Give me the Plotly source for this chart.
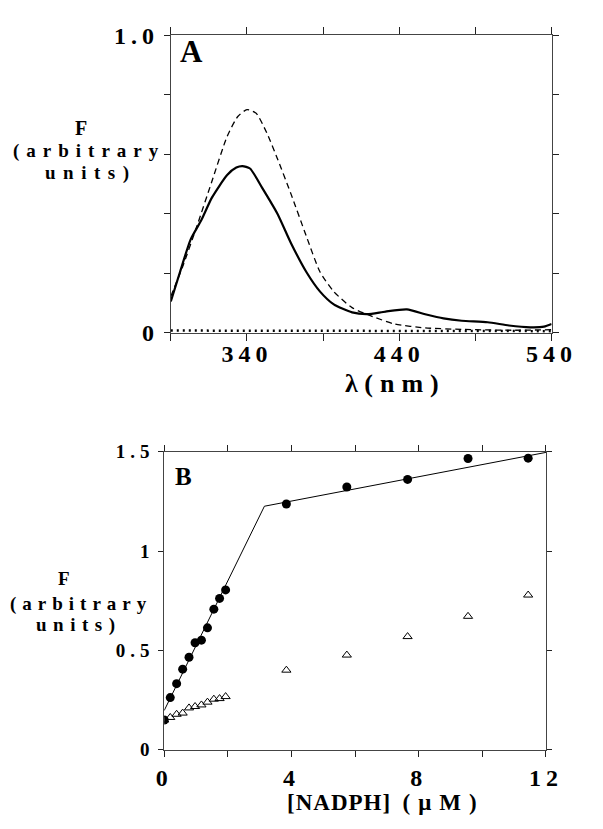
import plotly.graph_objects as go

# ---------- Panel A data ----------
wl_solid = [290, 296, 303, 310, 317, 327, 333, 337, 342, 350, 360, 369, 379, 388, 397,
            409, 419, 431, 445, 457, 469, 481, 498, 512, 526, 535, 540]
f_solid = [0.105, 0.203, 0.313, 0.378, 0.454, 0.530, 0.555, 0.560, 0.552, 0.487, 0.400,
           0.300, 0.204, 0.138, 0.095, 0.068, 0.062, 0.071, 0.078, 0.062, 0.048, 0.040,
           0.035, 0.024, 0.018, 0.020, 0.029]
wl_dash = [290, 298, 307, 317, 327, 334, 340, 346, 353, 360, 369, 379, 388, 397, 409,
           421, 437, 457, 481, 516, 540]
f_dash = [0.122, 0.225, 0.356, 0.509, 0.660, 0.727, 0.750, 0.738, 0.672, 0.585, 0.465,
          0.324, 0.204, 0.138, 0.084, 0.057, 0.029, 0.016, 0.011, 0.008, 0.010]
wl_dot = [290, 540]
f_dot = [0.007, 0.005]

a_xticks = [290, 340, 390, 440, 490, 540]
a_xlabels = ["", "340", "", "440", "", "540"]
a_yticks = [0, 0.2, 0.4, 0.6, 0.8, 1.0]
a_ylabels = ["0", "", "", "", "", "1.0"]

# ---------- Panel B data ----------
nadph_circ = [0, 0.19, 0.39, 0.58, 0.78, 0.97, 1.17, 1.36, 1.56, 1.74, 1.93,
              3.84, 5.74, 7.65, 9.55, 11.44]
f_circ = [0.150, 0.263, 0.333, 0.406, 0.466, 0.539, 0.552, 0.614, 0.708, 0.762, 0.805,
          1.237, 1.323, 1.361, 1.466, 1.468]
nadph_tri = [0, 0.19, 0.39, 0.58, 0.78, 0.97, 1.17, 1.36, 1.56, 1.74, 1.93,
             3.84, 5.74, 7.65, 9.55, 11.44]
f_tri = [0.150, 0.163, 0.179, 0.185, 0.211, 0.218, 0.226, 0.240, 0.255, 0.258, 0.268,
         0.401, 0.477, 0.570, 0.672, 0.779]
fit_x = [0, 3.15, 12]
fit_y = [0.198, 1.226, 1.497]

b_xticks = [0, 2, 4, 6, 8, 10, 12]
b_xlabels = ["0", "", "4", "", "8", "", "12"]
b_yticks = [0, 0.5, 1, 1.5]
b_ylabels = ["0", "0.5", "1", "1.5"]

SERIF = "Liberation Serif"
W, H = 603, 829


def sp(text, ls):
    return f'<span style="letter-spacing:{ls}px">{text}</span>'


fig = go.Figure()

# Panel A traces
fig.add_trace(go.Scatter(x=wl_dash, y=f_dash, mode="lines",
                         line=dict(color="black", width=1.3, dash="6px,4px", shape="spline", smoothing=0.6),
                         xaxis="x", yaxis="y", showlegend=False))
fig.add_trace(go.Scatter(x=wl_solid, y=f_solid, mode="lines",
                         line=dict(color="black", width=2.2, shape="spline", smoothing=0.6),
                         xaxis="x", yaxis="y", showlegend=False))
fig.add_trace(go.Scatter(x=wl_dot, y=f_dot, mode="lines", line=dict(color="black", width=2.5, dash="2px,4px"),
                         xaxis="x", yaxis="y", showlegend=False))

# Panel B traces
fig.add_trace(go.Scatter(x=fit_x, y=fit_y, mode="lines", line=dict(color="black", width=1),
                         xaxis="x2", yaxis="y2", showlegend=False))
fig.add_trace(go.Scatter(x=nadph_tri, y=f_tri, mode="markers",
                         marker=dict(symbol="triangle-up-open", size=8, color="black", line=dict(width=1)),
                         xaxis="x2", yaxis="y2", showlegend=False))
fig.add_trace(go.Scatter(x=nadph_circ, y=f_circ, mode="markers",
                         marker=dict(symbol="circle", size=9, color="black"),
                         xaxis="x2", yaxis="y2", showlegend=False))

axis_common = dict(showgrid=False, zeroline=False, showline=True, linecolor="#444", linewidth=1,
                   mirror="ticks", ticks="outside", tickcolor="#222", tickwidth=1,
                   tickmode="array")

fig.update_layout(
    width=W, height=H,
    margin=dict(l=0, r=0, t=0, b=0),
    paper_bgcolor="white", plot_bgcolor="white",
    font=dict(family=SERIF, color="black", weight="bold"),
    xaxis=dict(domain=[171 / W, 576 / W], range=[290, 540], anchor="y",
               tickvals=a_xticks, ticktext=[sp(t, 5) for t in a_xlabels], ticklen=7,
               ticklabelstandoff=-7,
               tickfont=dict(size=24, family=SERIF, weight="bold"), **axis_common),
    yaxis=dict(domain=[1 - 330 / H, 1 - 23 / H], range=[0, 1.0], anchor="x",
               tickvals=a_yticks, ticktext=[sp(t, 5) for t in a_ylabels], ticklen=6,
               tickfont=dict(size=24, family=SERIF, weight="bold"), **axis_common),
    xaxis2=dict(domain=[164 / W, 570 / W], range=[0, 12], anchor="y2",
                tickvals=b_xticks, ticktext=[sp(t, 5) for t in b_xlabels], ticklen=6,
                tickfont=dict(size=24, family=SERIF, weight="bold"), **axis_common),
    yaxis2=dict(domain=[1 - 760.7 / H, 1 - 453 / H], range=[0, 1.5], anchor="x2",
                tickvals=b_yticks, ticktext=[sp(t, 5) for t in b_ylabels], ticklen=5,
                tickfont=dict(size=19, family=SERIF, weight="bold"), **axis_common),
)


def ann(text, px, py, size, xanchor="center"):
    fig.add_annotation(text=text, x=px / W, y=1 - py / H, xref="paper", yref="paper",
                       showarrow=False, xanchor=xanchor, yanchor="middle",
                       font=dict(family=SERIF, size=size, color="black", weight="bold"))


# Panel A labels
ann("A", 193, 40, 31)
ann("F", 75, 119, 20)
ann(sp("(arbitrary", 7), 84, 142, 19)
ann(sp("units)", 7.5), 86, 165, 19)
ann("λ " + sp("(nm)", 7), 410, 382, 26)

# Panel B labels
ann("B", 185, 478, 25)
ann("F", 57, 584, 19)
ann(sp("(arbitrary", 6), 75, 610, 19)
ann(sp("units)", 6.5), 73, 632, 19)
ann(sp("[NADPH]", 1) + "  " + sp("(μM)", 8), 400, 815, 23)

fig.write_html("out.html")
